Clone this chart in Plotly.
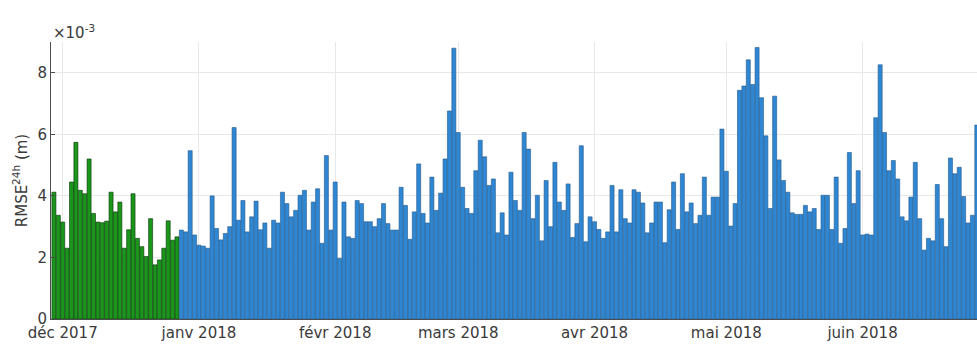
import pandas as pd
import plotly.graph_objects as go

# Values in units of 1e-3 m
green_start = "2017-11-29"
green_vals = [4.12, 3.37, 3.15, 2.30, 4.45, 5.74, 4.18, 4.07, 5.20, 3.43,
              3.15, 3.13, 3.18, 4.12, 3.48, 3.80, 2.30, 2.90, 4.07, 2.62,
              2.35, 2.03, 3.26, 1.76, 1.92, 2.30, 3.19, 2.56, 2.67]

blue_start = "2017-12-28"
blue_vals = [2.89, 2.83, 5.47, 2.73, 2.40, 2.37, 2.30, 4.00, 2.94, 2.57,
             2.78, 3.00, 6.22, 3.21, 3.85, 2.83, 3.32, 3.83, 2.90, 3.12,
             2.30, 3.21, 3.12, 4.12, 3.75, 3.32, 3.53, 4.02, 4.18, 2.89,
             3.80, 4.23, 2.46, 5.31, 2.89, 4.45, 1.97, 3.80, 2.67, 2.62,
             3.85, 3.75, 3.16, 3.16, 3.00, 3.26, 3.75, 3.10, 2.89, 2.89,
             4.28, 3.69, 2.59, 3.48, 5.04, 3.43, 3.12, 4.61, 3.53, 4.09,
             5.20, 6.76, 8.80, 6.06, 4.28, 3.59, 3.43, 4.82, 5.81, 5.27,
             4.34, 4.55, 2.80, 3.45, 2.73, 4.77, 3.85, 3.53, 6.06, 5.52,
             3.26, 4.02, 2.54, 4.50, 3.00, 5.09, 3.80, 3.53, 4.39, 2.65,
             3.10, 5.63, 2.51, 3.32, 3.16, 2.91, 2.62, 2.83, 4.34, 2.83,
             4.20, 3.26, 3.12, 4.20, 4.12, 3.77, 2.80, 3.12, 3.80, 3.80,
             2.48, 3.55, 4.45, 2.91, 4.72, 3.48, 3.77, 3.10, 3.37, 4.61,
             3.37, 3.96, 3.96, 6.17, 4.80, 3.02, 3.75, 7.43, 7.57, 8.42,
             7.62, 8.82, 7.19, 5.95, 3.59, 7.24, 5.17, 4.50, 4.12, 3.45,
             3.40, 3.40, 3.69, 3.48, 3.59, 2.91, 4.02, 4.02, 2.91, 4.61,
             2.46, 2.94, 5.41, 3.75, 4.82, 2.73, 2.76, 2.73, 6.54, 8.26,
             6.06, 4.82, 5.15, 4.55, 3.32, 3.19, 3.96, 5.09, 3.26, 2.24,
             2.62, 2.54, 4.37, 3.26, 2.35, 5.23, 4.72, 4.93, 3.98, 3.12,
             3.37, 6.30]

tick_dates = ["2017-12-01", "2018-01-01", "2018-02-01", "2018-03-01",
              "2018-04-01", "2018-05-01", "2018-06-01"]
tick_labels = ["déc 2017", "janv 2018", "févr 2018", "mars 2018",
               "avr 2018", "mai 2018", "juin 2018"]
y_ticks = [0, 2, 4, 6, 8]

scale = 1e-3
g_dates = pd.date_range(green_start, periods=len(green_vals), freq="D")
b_dates = pd.date_range(blue_start, periods=len(blue_vals), freq="D")

fig = go.Figure()
fig.add_trace(go.Bar(x=g_dates, y=[v * scale for v in green_vals],
                     marker=dict(color="#1a961a", line=dict(color="#0b330b", width=0.6)),
                     showlegend=False))
fig.add_trace(go.Bar(x=b_dates, y=[v * scale for v in blue_vals],
                     marker=dict(color="#2f87d4", line=dict(color="#24598a", width=0.6)),
                     showlegend=False))

font_fam = "DejaVu Sans"
txt_col = "#3a3a3a"
fsize = 15

fig.update_layout(
    width=977, height=345,
    margin=dict(l=51, r=0, t=42, b=25.5),
    plot_bgcolor="white", paper_bgcolor="white",
    bargap=0.08,
    font=dict(family=font_fam, size=fsize, color=txt_col),
    xaxis=dict(
        type="date",
        range=["2017-11-28 08:00", "2018-06-27 01:00"],
        tickvals=tick_dates, ticktext=tick_labels,
        showgrid=True, gridcolor="#e8e8e8", gridwidth=1,
        showline=True, linecolor="#4d4d4d", linewidth=1,
        ticks="", tickfont=dict(size=fsize, color=txt_col),
        zeroline=False, automargin=False,
    ),
    yaxis=dict(
        range=[0, 9 * scale],
        tickvals=[t * scale for t in y_ticks],
        ticktext=[str(t) for t in y_ticks],
        showgrid=True, gridcolor="#e8e8e8", gridwidth=1,
        showline=True, linecolor="#4d4d4d", linewidth=1,
        ticks="inside", ticklen=4, tickcolor="#4d4d4d",
        tickfont=dict(size=fsize, color=txt_col),
        zeroline=False, automargin=False,
        title=dict(text="RMSE<sup>24h</sup> (m)", standoff=6,
                   font=dict(size=fsize, color=txt_col)),
    ),
    annotations=[dict(
        text="×10<sup>-3</sup>", xref="paper", yref="paper",
        x=0, y=1, xanchor="left", yanchor="bottom", showarrow=False,
        font=dict(size=fsize, color=txt_col), yshift=-2,
    )],
)

fig.write_html("out.html", config={"displayModeBar": False},
               post_script="document.body.style.margin='0';")
